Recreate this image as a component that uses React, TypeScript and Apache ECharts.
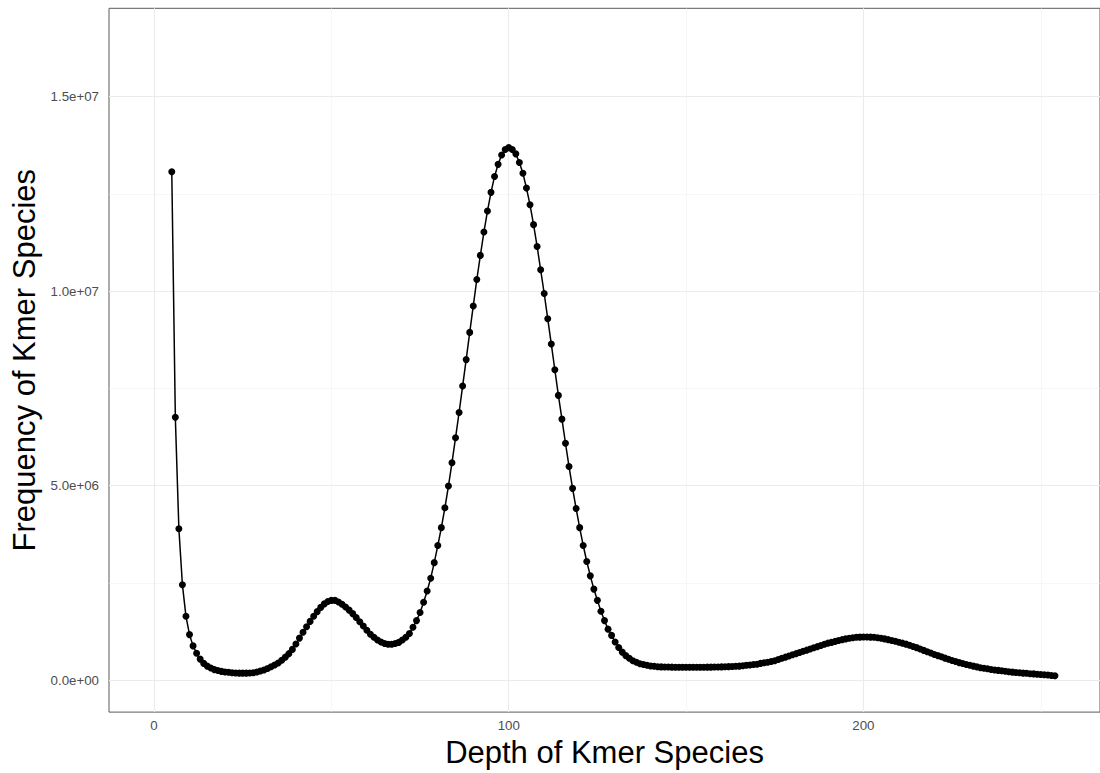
import React, { useEffect, useRef } from "react";
import * as echarts from "echarts";

// Depth (x) values of the plotted points
const depth = [
  5, 6, 7, 8, 9, 10, 11, 12, 13, 14,
  15, 16, 17, 18, 19, 20, 21, 22, 23, 24,
  25, 26, 27, 28, 29, 30, 31, 32, 33, 34,
  35, 36, 37, 38, 39, 40, 41, 42, 43, 44,
  45, 46, 47, 48, 49, 50, 51, 52, 53, 54,
  55, 56, 57, 58, 59, 60, 61, 62, 63, 64,
  65, 66, 67, 68, 69, 70, 71, 72, 73, 74,
  75, 76, 77, 78, 79, 80, 81, 82, 83, 84,
  85, 86, 87, 88, 89, 90, 91, 92, 93, 94,
  95, 96, 97, 98, 99, 100, 101, 102, 103, 104,
  105, 106, 107, 108, 109, 110, 111, 112, 113, 114,
  115, 116, 117, 118, 119, 120, 121, 122, 123, 124,
  125, 126, 127, 128, 129, 130, 131, 132, 133, 134,
  135, 136, 137, 138, 139, 140, 141, 142, 143, 144,
  145, 146, 147, 148, 149, 150, 151, 152, 153, 154,
  155, 156, 157, 158, 159, 160, 161, 162, 163, 164,
  165, 166, 167, 168, 169, 170, 171, 172, 173, 174,
  175, 176, 177, 178, 179, 180, 181, 182, 183, 184,
  185, 186, 187, 188, 189, 190, 191, 192, 193, 194,
  195, 196, 197, 198, 199, 200, 201, 202, 203, 204,
  205, 206, 207, 208, 209, 210, 211, 212, 213, 214,
  215, 216, 217, 218, 219, 220, 221, 222, 223, 224,
  225, 226, 227, 228, 229, 230, 231, 232, 233, 234,
  235, 236, 237, 238, 239, 240, 241, 242, 243, 244,
  245, 246, 247, 248, 249, 250, 251, 252, 253, 254,
];

// Frequency of kmer species, in millions
const freqMillions = [
  13.07, 6.76, 3.89, 2.45, 1.64, 1.17, 0.88, 0.69, 0.54, 0.43,
  0.36, 0.31, 0.27, 0.245, 0.225, 0.21, 0.2, 0.19, 0.185, 0.18,
  0.18, 0.18, 0.185, 0.19, 0.21, 0.235, 0.26, 0.3, 0.345, 0.39,
  0.44, 0.51, 0.59, 0.68, 0.79, 0.93, 1.08, 1.23, 1.37, 1.51,
  1.64, 1.76, 1.87, 1.96, 2.02, 2.05, 2.05, 2.01, 1.95, 1.88,
  1.8, 1.71, 1.61, 1.5, 1.39, 1.28, 1.18, 1.1, 1.03, 0.98,
  0.94, 0.92, 0.92, 0.94, 0.97, 1.03, 1.1, 1.2, 1.36, 1.53,
  1.74, 2.0, 2.29, 2.62, 3.02, 3.46, 3.92, 4.43, 4.99, 5.59,
  6.23, 6.88, 7.56, 8.24, 8.94, 9.62, 10.3, 10.92, 11.52, 12.06,
  12.54, 12.95, 13.26, 13.5, 13.64, 13.69, 13.64, 13.53, 13.31, 13.03,
  12.65, 12.22, 11.71, 11.15, 10.55, 9.94, 9.29, 8.64, 7.98, 7.32,
  6.71, 6.09, 5.49, 4.93, 4.41, 3.92, 3.46, 3.05, 2.68, 2.34,
  2.05, 1.77, 1.53, 1.31, 1.15, 0.98, 0.84, 0.72, 0.63, 0.56,
  0.5, 0.46, 0.42, 0.4, 0.38, 0.365, 0.355, 0.345, 0.34, 0.335,
  0.335, 0.333, 0.332, 0.331, 0.331, 0.33, 0.33, 0.33, 0.331, 0.331,
  0.332, 0.333, 0.334, 0.336, 0.338, 0.341, 0.344, 0.347, 0.351, 0.355,
  0.36, 0.37, 0.38, 0.39, 0.4, 0.41, 0.43, 0.445, 0.46, 0.48,
  0.5, 0.53, 0.56, 0.59, 0.62, 0.65, 0.68, 0.71, 0.74, 0.77,
  0.8, 0.83, 0.86, 0.89, 0.92, 0.95, 0.97, 0.995, 1.02, 1.04,
  1.06, 1.075, 1.09, 1.1, 1.105, 1.11, 1.11, 1.105, 1.1, 1.09,
  1.075, 1.06, 1.04, 1.02, 1.0, 0.975, 0.95, 0.925, 0.895, 0.865,
  0.835, 0.8, 0.765, 0.73, 0.695, 0.66, 0.63, 0.6, 0.565, 0.535,
  0.505, 0.48, 0.45, 0.425, 0.4, 0.38, 0.36, 0.34, 0.32, 0.305,
  0.29, 0.275, 0.26, 0.25, 0.24, 0.23, 0.215, 0.205, 0.195, 0.19,
  0.18, 0.175, 0.165, 0.16, 0.15, 0.145, 0.14, 0.13, 0.12, 0.11,
];

const xMajor = [0, 100, 200];
const xMinor = [50, 150, 250];
const xTickLabels = ["0", "100", "200"];
const yMajor = [0, 5e6, 1e7, 1.5e7];
const yMinor = [2.5e6, 7.5e6, 1.25e7];
const yTickLabels = ["0.0e+00", "5.0e+06", "1.0e+07", "1.5e+07"];

const xTitle = "Depth of Kmer Species";
const yTitle = "Frequency of Kmer Species";

const FONT = "'Liberation Sans', Arial, Helvetica, sans-serif";

export default function App() {
  const ref = useRef<HTMLDivElement>(null);

  useEffect(() => {
    if (!ref.current) return;
    const chart = echarts.init(ref.current, null, { renderer: "svg" });
    const points = depth.map((d, i) => [d, freqMillions[i] * 1e6]);

    const majorStyle = { color: "#ebebeb", width: 1.1, type: "solid" };
    const minorStyle = { color: "#f2f2f2", width: 0.6, type: "solid" };
    const gridLines = [
      ...xMinor.map((v) => ({ xAxis: v, lineStyle: minorStyle })),
      ...yMinor.map((v) => ({ yAxis: v, lineStyle: minorStyle })),
      ...xMajor.map((v) => ({ xAxis: v, lineStyle: majorStyle })),
      ...yMajor.map((v) => ({ yAxis: v, lineStyle: majorStyle })),
    ];

    chart.setOption({
      animation: false,
      backgroundColor: "#ffffff",
      grid: {
        left: 109,
        top: 8.3,
        right: -6.5,
        bottom: 60.3,
        show: true,
        borderColor: "#5a5a5a",
        borderWidth: 1,
        backgroundColor: "transparent",
        z: 3,
      },
      xAxis: {
        type: "value",
        min: -12.7,
        max: 266.7,
        splitLine: { show: false },
        axisLine: { show: false },
        axisTick: {
          show: true,
          length: 4,
          customValues: xMajor,
          lineStyle: { color: "#333333", width: 1 },
        },
        axisLabel: {
          customValues: xMajor,
          formatter: (v: number) => xTickLabels[xMajor.indexOf(v)] ?? "",
          color: "#4d4d4d",
          fontSize: 13.3,
          fontFamily: FONT,
          margin: 7,
        },
        name: xTitle,
        nameLocation: "middle",
        nameGap: 21,
        nameTextStyle: { fontSize: 31, color: "#000000", fontFamily: FONT },
      },
      yAxis: {
        type: "value",
        min: -822500,
        max: 17272500,
        splitLine: { show: false },
        axisLine: { show: false },
        axisTick: {
          show: true,
          length: 4,
          customValues: yMajor,
          lineStyle: { color: "#333333", width: 1 },
        },
        axisLabel: {
          customValues: yMajor,
          formatter: (v: number) => yTickLabels[yMajor.indexOf(v)] ?? "",
          color: "#4d4d4d",
          fontSize: 13.3,
          fontFamily: FONT,
          margin: 10,
        },
        name: yTitle,
        nameLocation: "middle",
        nameGap: 64,
        nameTextStyle: { fontSize: 31, color: "#000000", fontFamily: FONT },
      },
      series: [
        {
          type: "line",
          data: [],
          z: 1,
          silent: true,
          markLine: {
            silent: true,
            symbol: ["none", "none"],
            label: { show: false },
            animation: false,
            data: gridLines,
          },
        },
        {
          type: "line",
          data: points,
          z: 5,
          symbol: "circle",
          symbolSize: 7,
          showSymbol: true,
          showAllSymbol: true,
          lineStyle: { color: "#000000", width: 1.5 },
          itemStyle: { color: "#000000" },
          emphasis: { disabled: true },
        },
      ],
    });

    return () => chart.dispose();
  }, []);

  return (
    <div
      ref={ref}
      style={{ position: "fixed", left: 0, top: 0, width: 1100, height: 773 }}
    />
  );
}
